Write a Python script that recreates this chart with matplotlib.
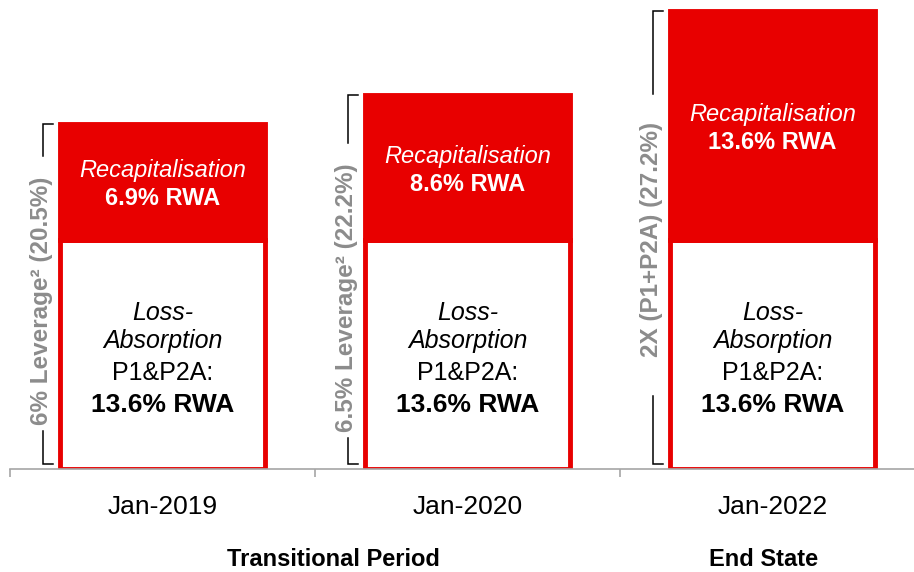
import matplotlib.pyplot as plt

plt.rcParams["font.family"] = ["Liberation Sans", "DejaVu Sans"]

# Capital stack per date (% of RWA)
dates = ["Jan-2019", "Jan-2020", "Jan-2022"]
loss_absorption = [13.6, 13.6, 13.6]
recapitalisation = [6.9, 8.6, 13.6]
totals = [20.5, 22.2, 27.2]
bracket_labels = ["6% Leverage\u00b2 (20.5%)",
                  "6.5% Leverage\u00b2 (22.2%)",
                  "2X (P1+P2A) (27.2%)"]
periods = ["Transitional Period", "End State"]

RED = "#E80000"
GREY_TEXT = "#8C8C8C"
AXIS_GREY = "#A6A6A6"

W, H, DPI = 914, 572, 100
PX_PER_UNIT = 16.84        # vertical pixels per % RWA
SLOT = 305                 # horizontal pixels per category
BASE = 103                 # baseline height above figure bottom, px

fig = plt.figure(figsize=(W / DPI, H / DPI), dpi=DPI)
ax = fig.add_axes([10 / W, BASE / H, (W - 10) / W, (H - BASE) / H])
ax.set_xlim(-0.5, -0.5 + (W - 10) / SLOT)
ax.set_ylim(0, (H - BASE) / PX_PER_UNIT)

x = list(range(len(dates)))
bar_w = 0.669
ax.bar(x, loss_absorption, width=bar_w, color="white", edgecolor=RED,
       linewidth=3.5, zorder=2)
ax.bar(x, recapitalisation, bottom=loss_absorption, width=bar_w, color=RED,
       edgecolor=RED, linewidth=3.5, zorder=3)

px = 1 / PX_PER_UNIT  # one pixel in data units (vertical)
for i in x:
    # recapitalisation label, centred in the red block
    mid_top = loss_absorption[i] + recapitalisation[i] / 2 - 3 * px
    ax.text(i, mid_top + 14 * px, "Recapitalisation", ha="center", va="center",
            color="white", fontsize=17, style="italic", zorder=4)
    ax.text(i, mid_top - 14 * px, f"{recapitalisation[i]}% RWA", ha="center",
            va="center", color="white", fontsize=17, weight="bold", zorder=4)

    # loss-absorption label, centred in the white block
    mid_bot = loss_absorption[i] / 2 - 5 * px
    ax.text(i, mid_bot + 46 * px, "Loss-", ha="center", va="center",
            fontsize=18, style="italic", zorder=4)
    ax.text(i, mid_bot + 18 * px, "Absorption", ha="center", va="center",
            fontsize=18, style="italic", zorder=4)
    ax.text(i, mid_bot - 14 * px, "P1&P2A:", ha="center", va="center",
            fontsize=18, zorder=4)
    ax.text(i, mid_bot - 46 * px, f"{loss_absorption[i]}% RWA", ha="center",
            va="center", fontsize=19, weight="bold", zorder=4)

# brackets on the left of each bar, with a gap for the rotated label
gap_top = [18.59, 19.36, 22.27]
gap_bot = [2.26, 1.84, 4.33]
label_y = [9.98, 10.2, 13.66]
for i in x:
    bx = i - bar_w / 2 - 17 / SLOT
    serif = 10 / SLOT
    low = 0.3
    ax.plot([bx + serif, bx, bx], [totals[i], totals[i], gap_top[i]],
            color="black", lw=1.1, solid_joinstyle="miter", zorder=1)
    ax.plot([bx, bx, bx + serif], [gap_bot[i], low, low],
            color="black", lw=1.1, solid_joinstyle="miter", zorder=1)
    ax.text(bx - 2 / SLOT, label_y[i], bracket_labels[i], rotation=90,
            ha="center", va="center", color=GREY_TEXT, fontsize=17.5,
            weight="bold")

# axis: bottom spine with separators between categories
for side in ["top", "right", "left"]:
    ax.spines[side].set_visible(False)
ax.spines["bottom"].set_color(AXIS_GREY)
ax.spines["bottom"].set_linewidth(1.2)
ax.set_yticks([])
ax.set_xticks([-0.5, 0.5, 1.5])
ax.tick_params(axis="x", which="major", length=6, width=1.2, color=AXIS_GREY,
               labelbottom=False, direction="out")
ax.set_xticks(x, minor=True)
ax.set_xticklabels(dates, minor=True, fontsize=19)
ax.tick_params(axis="x", which="minor", length=0, pad=19)

period_x = [0.56, 1.972]
for px_, label in zip(period_x, periods):
    ax.text(px_, -90 / PX_PER_UNIT, label, ha="center", va="center",
            fontsize=17, weight="bold", clip_on=False)

fig.savefig("out.png", dpi=DPI)
